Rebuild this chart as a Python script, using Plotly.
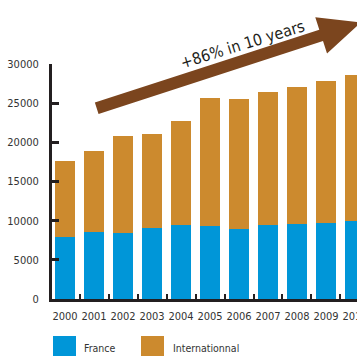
import math
import plotly.graph_objects as go

years = ["2000", "2001", "2002", "2003", "2004", "2005", "2006", "2007", "2008", "2009", "2010"]
france = [7920, 8560, 8430, 9110, 9450, 9320, 8940, 9450, 9580, 9710, 9960]
international_total = [17620, 18900, 20770, 21070, 22690, 25670, 25540, 26480, 27110, 27840, 28570]
international = [t - f for t, f in zip(international_total, france)]
y_ticks = [0, 5000, 10000, 15000, 20000, 25000, 30000]
y_tick_labels = ["0", "5000", "10000", "15000", "20000", "25000", "30000"]
annotation_text = "+86% in 10 years"

BLUE = "#0096D8"
ORANGE = "#CC8A2E"
BROWN = "#7B451E"
FONT = "DejaVu Sans Condensed, sans-serif"

W, H = 357, 356
ML, MR, MT, MB = 52, 0, 64, 57
PW = W - ML - MR
PH = H - MT - MB


def px(x):
    return (x - ML) / PW


def py(y):
    return (H - MB - y) / PH


fig = go.Figure()
fig.add_trace(go.Bar(x=years, y=france, name="France", marker_color=BLUE, marker_line_width=0))
fig.add_trace(go.Bar(x=years, y=international, name="Internationnal", marker_color=ORANGE, marker_line_width=0))

# arrow (decoration) in pixel-space converted to paper
ang = math.radians(18)
u = (math.cos(ang), -math.sin(ang))
n = (math.sin(ang), math.cos(ang))
T = (96.7, 108.3)
L = 236
Hc = (T[0] + L * u[0], T[1] + L * u[1])
sw, hw, hl = 6, 19, 42
pts = [
    (T[0] - sw * n[0], T[1] - sw * n[1]),
    (Hc[0] - sw * n[0], Hc[1] - sw * n[1]),
    (Hc[0] - hw * n[0], Hc[1] - hw * n[1]),
    (Hc[0] + hl * u[0], Hc[1] + hl * u[1]),
    (Hc[0] + hw * n[0], Hc[1] + hw * n[1]),
    (Hc[0] + sw * n[0], Hc[1] + sw * n[1]),
    (T[0] + sw * n[0], T[1] + sw * n[1]),
]
path = "M " + " L ".join(f"{px(x):.5f},{py(y):.5f}" for x, y in pts) + " Z"
shapes = [dict(type="path", xref="paper", yref="paper", path=path, fillcolor=BROWN, line_width=0, layer="above")]

# custom legend
legend_items = [("France", BLUE, 53, 82), ("Internationnal", ORANGE, 141, 171)]
annotations = [
    dict(text=annotation_text, xref="paper", yref="paper", x=px(242), y=py(44), showarrow=False,
         textangle=-17, font=dict(family=FONT, size=16, color="#231F20"), xanchor="center", yanchor="middle")
]
for name, col, sx, tx in legend_items:
    shapes.append(dict(type="rect", xref="paper", yref="paper", x0=px(sx), x1=px(sx + 23), y0=py(336), y1=py(357),
                       fillcolor=col, line_width=0))
    annotations.append(dict(text=name, xref="paper", yref="paper", x=px(tx), y=py(348), showarrow=False,
                            xanchor="left", yanchor="middle", font=dict(family=FONT, size=10.5, color="#333333")))

fig.update_layout(
    width=W, height=H,
    margin=dict(l=ML, r=MR, t=MT, b=MB, pad=0, autoexpand=False),
    barmode="stack", bargap=0.28,
    plot_bgcolor="white", paper_bgcolor="white",
    showlegend=False,
    shapes=shapes, annotations=annotations,
    font=dict(family=FONT, size=11, color="#333333"),
)
fig.update_xaxes(range=[-0.45, 10.07], showline=True, linecolor="#231F20", linewidth=3,
                 ticks="inside", tickson="boundaries", ticklen=5, tickwidth=2, tickcolor="#231F20",
                 tickangle=0, showgrid=False, ticklabelstandoff=5, automargin=False,
                 ticklabeloverflow="allow",
                 tickfont=dict(family=FONT, size=11, color="#333333"))
fig.update_yaxes(range=[0, 30000], tickvals=y_ticks, ticktext=y_tick_labels, showline=True,
                 linecolor="#231F20", linewidth=3, automargin=False,
                 ticks="inside", ticklen=7, tickwidth=2.5, tickcolor="#231F20", showgrid=False, zeroline=False,
                 ticklabelstandoff=8, tickfont=dict(family=FONT, size=11, color="#333333"))

fig.write_html("out.html")
